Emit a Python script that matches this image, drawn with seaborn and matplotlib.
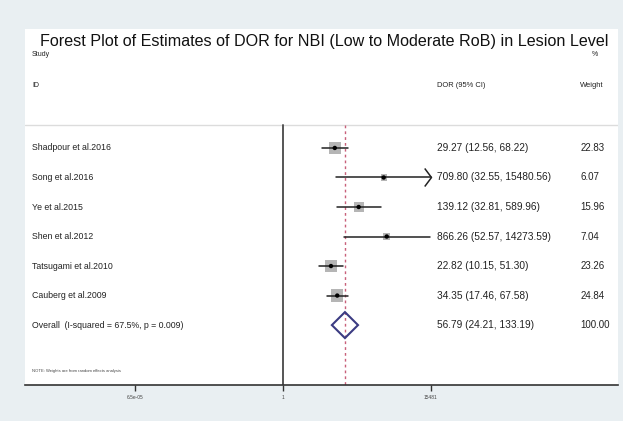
import numpy as np
import pandas as pd
import matplotlib
matplotlib.use("Agg")
import matplotlib.pyplot as plt
import matplotlib.transforms as mtransforms
from matplotlib.patches import Polygon
from matplotlib.path import Path
import seaborn as sns

# ---- data ----
studies = ["Shadpour et al.2016", "Song et al.2016", "Ye et al.2015", "Shen et al.2012",
           "Tatsugami et al.2010", "Cauberg et al.2009"]
dor = [29.27, 709.80, 139.12, 866.26, 22.82, 34.35]
ci_low = [12.56, 32.55, 32.81, 52.57, 10.15, 17.46]
ci_high = [68.22, 15480.56, 589.96, 14273.59, 51.30, 67.58]
weights = [22.83, 6.07, 15.96, 7.04, 23.26, 24.84]
overall_label = "Overall  (I-squared = 67.5%, p = 0.009)"
overall = 56.79
overall_low = 24.21
overall_high = 133.19
overall_weight = 100.00
tick_values = [6.5e-05, 1, 15481]
tick_labels = ["6.5e-05", "1", "15481"]
title = "Forest Plot of Estimates of DOR for NBI (Low to Moderate RoB) in Lesion Level"
note = "NOTE: Weights are from random effects analysis"

df = pd.DataFrame({"study": studies, "dor": dor, "lo": ci_low, "hi": ci_high, "w": weights})
df["row"] = np.arange(len(df))
overall_row = len(df)
clip_hi = tick_values[-1]

sns.set_style("white")
plt.rcParams["font.family"] = ["Liberation Sans", "DejaVu Sans"]

bg = "#e9eff2"
fig = plt.figure(figsize=(6.23, 4.21), dpi=100, facecolor=bg)
ax = fig.add_axes([25/623, 36/421, 593/623, 356/421])
ax.set_facecolor("white")
ax.set_xscale("log")
xl = (10**-7.31, 10**9.49)
ax.set_xlim(*xl)
ax.set_ylim(8.03, -4.03)

# reference lines
ax.plot([1, 1], [-0.78, 8.03], color="#555555", lw=1.4, zorder=2)
ax.plot([overall, overall], [-0.78, 8.03], color="#c8607a", lw=1.0,
        ls=(0, (2, 2.2)), zorder=2)
ax.plot(list(xl), [-0.78, -0.78], color="#dcdcdc", lw=1.0, zorder=1)

# open arrow-head marker (tip at the data point)
chevron = Path([(-0.75, 1.0), (0.0, 0.0), (-0.75, -1.0)],
               [Path.MOVETO, Path.LINETO, Path.LINETO])

# CI lines (an arrow marks a CI that reaches the edge of the plotted range)
for _, r in df.iterrows():
    hi = min(r["hi"], clip_hi)
    ax.plot([r["lo"], hi], [r["row"], r["row"]], color="#222222", lw=1.1, zorder=4)
    if np.ceil(r["hi"]) >= clip_hi:
        ax.plot([hi], [r["row"]], marker=chevron, markersize=13, markerfacecolor="none",
                markeredgecolor="#222222", markeredgewidth=1.1, ls="none", zorder=4)

# weight squares
sns.scatterplot(data=df, x="dor", y="row", marker="s", s=np.array(weights) * 3.2,
                color="#b5b5b5", edgecolor="none", linewidth=0, ax=ax, zorder=3,
                legend=False)
sns.scatterplot(data=df, x="dor", y="row", marker="o", s=10, color="black",
                edgecolor="none", linewidth=0, ax=ax, zorder=5, legend=False)

# diamond
h = 0.44
diamond = Polygon([(overall_low, overall_row), (overall, overall_row - h),
                   (overall_high, overall_row), (overall, overall_row + h)],
                  closed=True, fill=False, edgecolor="#3b3b82", lw=1.5, zorder=6)
ax.add_patch(diamond)

# text columns
tr = mtransforms.blended_transform_factory(ax.transAxes, ax.transData)
tc = "#222222"
ax.text(0.504, -3.6, title, transform=tr, ha="center", va="center", fontsize=11.6, color="#111111")
ax.text(0.012, -3.15, "Study", transform=tr, ha="left", va="center", fontsize=5, color=tc)
ax.text(0.955, -3.15, "%", transform=tr, ha="left", va="center", fontsize=5, color=tc)
ax.text(0.012, -2.1, "ID", transform=tr, ha="left", va="center", fontsize=5, color=tc)
ax.text(0.694, -2.1, "DOR (95% CI)", transform=tr, ha="left", va="center", fontsize=5.4, color=tc)
ax.text(0.9365, -2.1, "Weight", transform=tr, ha="left", va="center", fontsize=5.4, color=tc)

fs = 6.3
for _, r in df.iterrows():
    ax.text(0.012, r["row"], r["study"], transform=tr, ha="left", va="center", fontsize=fs, color=tc)
    ax.text(0.694, r["row"], f"{r['dor']:.2f} ({r['lo']:.2f}, {r['hi']:.2f})",
            transform=tr, ha="left", va="center", fontsize=fs * 1.16, color=tc)
    ax.text(0.9365, r["row"], f"{r['w']:.2f}", transform=tr, ha="left", va="center", fontsize=fs * 1.12, color=tc)

ax.text(0.012, overall_row, overall_label, transform=tr, ha="left", va="center", fontsize=fs, color=tc)
ax.text(0.694, overall_row, f"{overall:.2f} ({overall_low:.2f}, {overall_high:.2f})",
        transform=tr, ha="left", va="center", fontsize=fs * 1.16, color=tc)
ax.text(0.9365, overall_row, f"{overall_weight:.2f}", transform=tr, ha="left", va="center", fontsize=fs * 1.12, color=tc)
ax.text(0.012, 7.55, note, transform=tr, ha="left", va="center", fontsize=3, color="#444444")

# axes styling
for s in ["top", "right", "left"]:
    ax.spines[s].set_visible(False)
ax.spines["bottom"].set_color("#333333")
ax.spines["bottom"].set_linewidth(1.2)
ax.set_yticks([])
ax.set_xticks(tick_values)
ax.set_xticklabels(tick_labels)
ax.xaxis.set_minor_locator(matplotlib.ticker.NullLocator())
ax.tick_params(axis="x", direction="out", length=4, width=1.0, color="#333333",
               labelsize=3.5, labelcolor="#444444", pad=3, bottom=True)
ax.set_xlabel("")
ax.set_ylabel("")

fig.savefig("out.png", dpi=100, facecolor=bg)
